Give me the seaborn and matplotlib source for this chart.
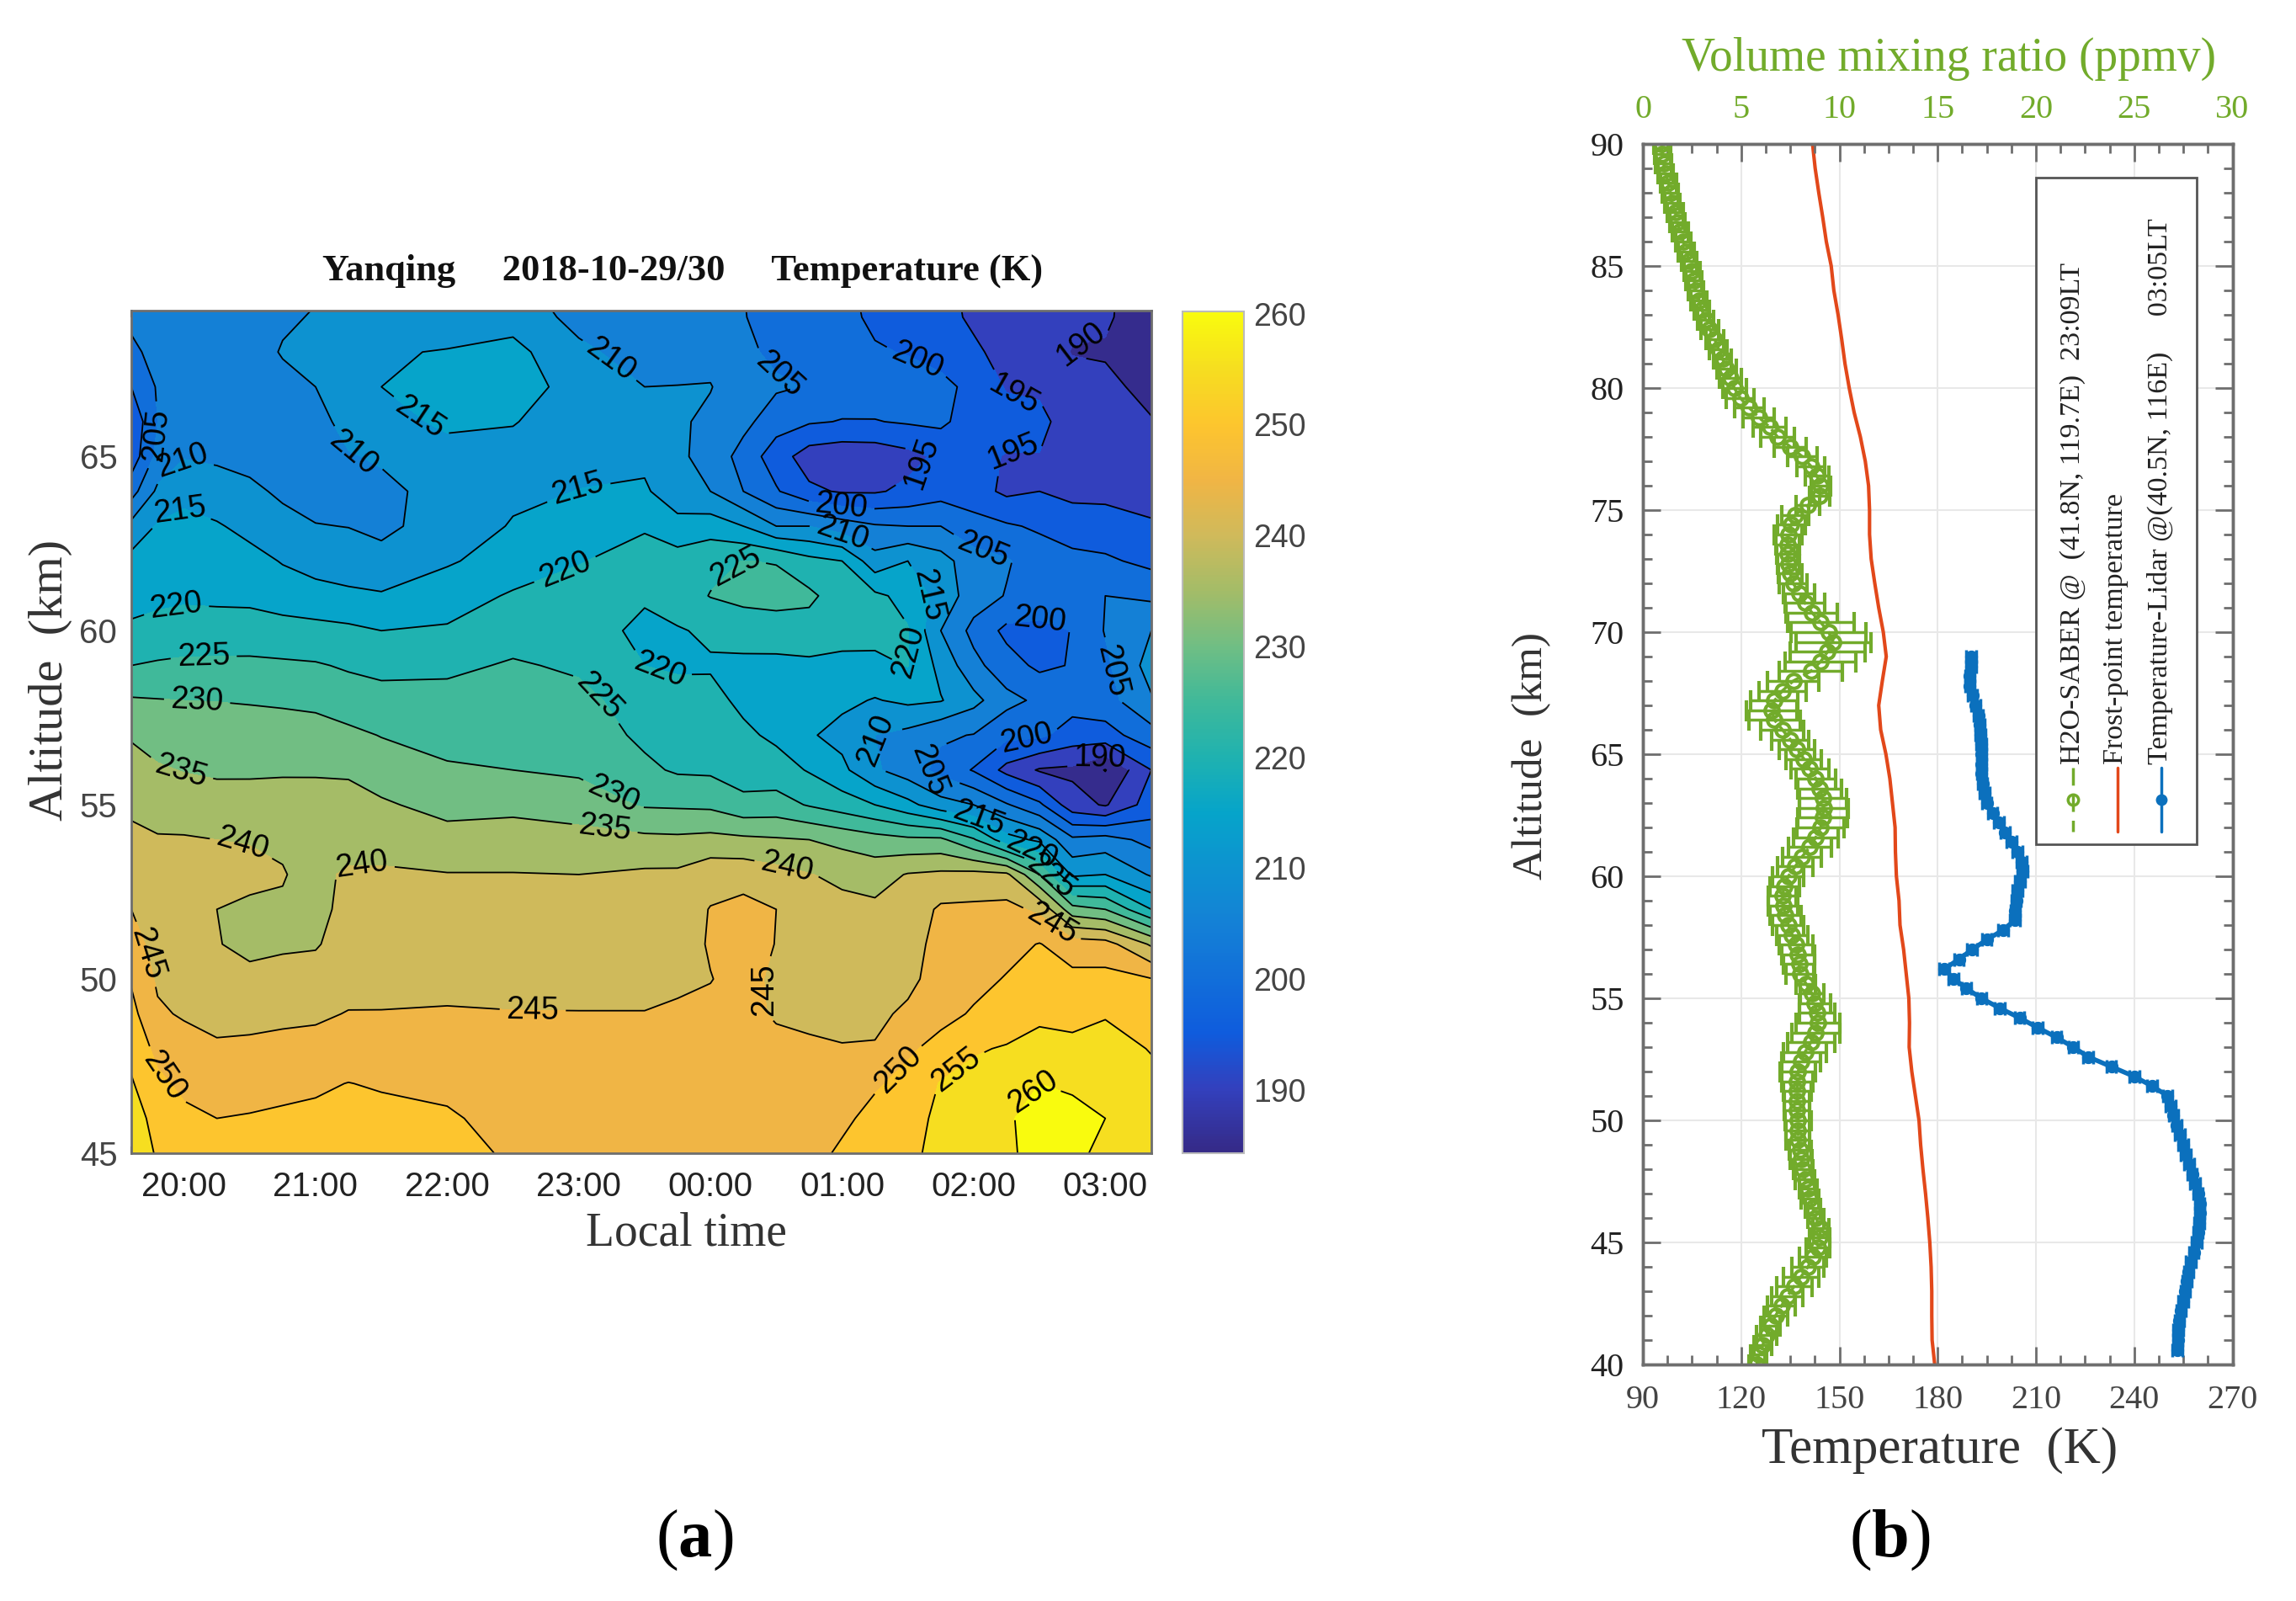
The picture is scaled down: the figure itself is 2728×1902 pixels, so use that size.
# -*- coding: utf-8 -*-
"""
Yanqing lidar temperature (a) and SABER H2O / frost point profile (b)
"""
import numpy as np
import matplotlib
matplotlib.use("Agg")
import matplotlib.pyplot as plt
from matplotlib.colors import Normalize, LinearSegmentedColormap
from matplotlib.cm import ScalarMappable
from matplotlib.patches import Rectangle
from matplotlib.ticker import MultipleLocator, FuncFormatter
import seaborn as sns

sns.set_style("ticks")
plt.rcParams["font.family"] = ["Liberation Sans", "DejaVu Sans"]
plt.rcParams["mathtext.fontset"] = "custom"
plt.rcParams["mathtext.bf"] = "Liberation Serif:bold"

W, H = 2728, 1902

#%% panel a data: temperature (K), one list per time column
hours = [19.6, 19.8, 20.0, 20.25, 20.5, 20.75, 21.0, 21.25, 21.5, 22.0, 22.5, 23.0, 23.5, 23.75,
         24.0, 24.25, 24.5, 24.75, 25.0, 25.25, 25.5, 25.75, 26.0, 26.25, 26.5, 26.75, 27.0, 27.35]
altitudes = [45, 46, 47, 48, 49, 50, 51, 52, 53, 54, 55, 56, 57, 58, 59, 60, 61, 62, 63, 64, 65, 66, 67, 68, 69, 70]
t_1936 = [258, 257, 255.5, 253.5, 251.5, 249.5, 247, 245, 243, 241.2, 239, 237, 234.5, 230.5, 225, 220.5, 219, 216.5, 211.5, 203, 197, 196, 200, 204, 206, 206]
t_1948 = [254.5, 253.5, 251, 248.7, 245.7, 244.3, 243.2, 242.5, 241.5, 240.4, 238, 235.6, 232.8, 230.2, 225.7, 221, 219.3, 217.5, 215.5, 211, 206.5, 205, 205.5, 206.5, 207, 207]
t_2000 = [252, 251, 249, 247, 244.5, 243.5, 242.8, 242, 241.3, 240.4, 237.5, 234.8, 232.3, 230, 226, 222, 219.3, 218, 216.5, 213.5, 209.7, 208.5, 208, 207.5, 207.5, 207.5]
t_2015 = [251.7, 250, 248, 245.6, 243.7, 241.7, 240.2, 240, 241.1, 240, 236.4, 234.5, 232.3, 229.9, 226, 222.2, 219, 217.3, 215.5, 212, 209.3, 208, 207.5, 207.3, 207.5, 207.5]
t_2030 = [251.5, 250.3, 248.3, 246, 243.5, 241, 239, 239.3, 241, 239.8, 236.7, 234.4, 232, 229.7, 226, 222.3, 218.8, 216.7, 213.5, 211, 208.5, 207.5, 207, 207, 208, 208]
t_2045 = [251.8, 250.7, 248.8, 246.3, 244, 241.5, 239.4, 239.6, 240.2, 239.5, 236.5, 234.6, 232, 229.4, 225.7, 222, 217.5, 214.7, 211.5, 209.2, 207.7, 207.6, 208, 210.5, 209, 208.5]
t_2100 = [252, 251, 249.3, 246.5, 244.3, 241.9, 239.6, 239, 238.8, 237.6, 236.1, 234.7, 231.8, 229, 225.4, 221.7, 216.4, 213.5, 210.2, 208, 207.5, 208.5, 210, 211.5, 210.5, 209]
t_2115 = [252.5, 251.4, 250.1, 247.2, 245.2, 243.4, 242, 241, 240.7, 238, 236.6, 234.4, 231.2, 227.2, 224.5, 221, 216, 212.3, 209.9, 208.4, 209.7, 211.5, 212.5, 213, 211, 210]
t_2130 = [253, 251.5, 249.5, 247.3, 245.2, 243.5, 242.5, 241.8, 240.6, 238.3, 235.6, 232.8, 229.8, 226.7, 223.7, 220, 215.5, 211.4, 209, 209, 210.5, 213, 215, 214.5, 212, 211]
t_2200 = [252.5, 250.7, 248.7, 247, 245.3, 244, 243, 242, 240.2, 236.7, 233.5, 230.6, 228.3, 226.6, 224, 220.6, 217.5, 214.5, 212, 211.5, 213, 216, 217.7, 215.3, 212, 211]
t_2230 = [249, 248, 247, 246, 245.1, 244.2, 243, 242, 240.2, 236.8, 234, 230, 228, 226.6, 225.5, 223, 220.6, 217, 215.4, 214, 213.7, 215.2, 218, 216.5, 213, 211]
t_2300 = [248.5, 248, 247, 246, 245.1, 244, 243, 242, 240, 236.7, 232.7, 229.2, 227.7, 226.3, 224.3, 223, 221.5, 219.8, 217.5, 215.1, 213.8, 213, 212.5, 211, 208.5, 207.5]
t_2330 = [248.5, 248, 247, 246, 245.1, 244, 243, 242, 240.8, 236.2, 229.5, 226, 224, 222.8, 220, 218.5, 220.8, 221.5, 219.6, 215.8, 213.7, 212, 210, 208, 206.5, 205.5]
t_2345 = [248.7, 248.2, 247.2, 246.2, 245.4, 244.5, 243.5, 242.5, 240.9, 236, 229.3, 224.4, 222.8, 221.7, 219.4, 219.6, 222.5, 222, 217, 211.5, 210.8, 210.7, 210.1, 208, 206.5, 205.5]
t_0000 = [249, 248.5, 247.5, 246.5, 245.7, 244.9, 245.3, 245.2, 243.2, 236.5, 229, 224.2, 222.5, 221.5, 219.5, 220.8, 225.2, 223.7, 217.7, 210, 208.5, 209, 210.2, 208.5, 206.5, 205]
t_0015 = [248.8, 248.3, 247.3, 246.3, 246, 246, 246.5, 246.3, 243.3, 236, 226.5, 222.5, 221, 218.9, 218.7, 222.5, 226.2, 225.1, 215, 205, 203, 206.5, 207.2, 206, 205.3, 205]
t_0030 = [248.5, 248, 247, 246, 244.6, 244.4, 244.9, 245, 241.8, 235.5, 227, 222.2, 219, 218, 218.5, 223, 226.5, 224.8, 210, 200.5, 197.5, 202, 205.7, 204, 202.5, 201]
t_0045 = [248.3, 247.8, 246.8, 245.5, 244.3, 243.7, 243.4, 243, 240.2, 235, 224.6, 219.6, 215.5, 217, 219, 223, 226, 221.5, 210, 196, 192.5, 200.5, 204.7, 203.5, 202.3, 201.5]
t_0100 = [250.8, 249, 247.5, 245.2, 244, 243, 242, 241.3, 239, 233.5, 222.5, 216.2, 213.5, 216, 218.6, 222, 222.5, 220, 207.5, 194.5, 191.5, 199.8, 202.3, 202.5, 201.5, 201]
t_0115 = [253, 251.5, 249.4, 245.4, 243.8, 243, 242.5, 241, 238, 232, 220, 210.7, 210, 214.7, 218.5, 222, 221, 212, 205.5, 194.5, 191.8, 199.8, 202.5, 200.5, 199, 198.5]
t_0130 = [254, 253.3, 251.5, 249.2, 246, 243.6, 243.2, 242, 240.3, 231, 216.5, 207.5, 208.5, 216, 220.2, 220.3, 218.5, 215, 205, 196, 193.5, 200.5, 202.5, 199.7, 198, 197.5]
t_0145 = [256.3, 256, 255.3, 251.7, 248.5, 247.4, 246.5, 245.8, 241, 231, 212, 203.5, 205.7, 215.3, 213.5, 210, 213, 212, 205, 198, 196, 201, 201.5, 198, 197, 196.5]
t_0200 = [257, 257, 256.5, 254.5, 250.5, 248.6, 247.3, 246, 241.5, 225.5, 210, 199.6, 204.8, 211.5, 206.5, 203.5, 207.5, 207, 202, 197, 196.5, 197.5, 198.5, 196, 194, 193.5]
t_0215 = [259.5, 259.5, 258, 255.4, 252.2, 250.3, 248.5, 246.5, 241, 217, 205.5, 193.5, 201.2, 206.5, 202, 198.8, 204.7, 205.5, 200.6, 194, 194.7, 197, 194.6, 193, 192, 191.7]
t_0230 = [261, 261.5, 260, 256.7, 254, 251.8, 250.2, 244, 230, 214, 201, 189.5, 201, 204, 199, 198, 204.7, 202.5, 199.3, 195, 194.9, 195.8, 194.5, 193.5, 192.5, 192]
t_0245 = [261.5, 261, 259.5, 256.3, 253.5, 251.2, 247.6, 232, 214, 206, 192, 189, 197.8, 202, 200.3, 200.2, 204.3, 201.7, 197, 194, 194, 193.5, 192.5, 189.7, 191.5, 192]
t_0300 = [258.5, 260, 259, 256.5, 254.7, 251.5, 247, 230, 215, 207, 189.5, 184.8, 198, 203, 204, 205.3, 205, 200.8, 197, 193.8, 193, 192, 191.2, 189.5, 190.7, 191]
t_0321 = [257, 256.5, 256, 254.8, 252.5, 250.2, 239.3, 220, 209.4, 203.5, 197.5, 195, 203, 209.5, 212, 210, 204, 198.7, 195.3, 194, 192.5, 190.3, 188.5, 187.5, 187, 187]
contour_levels = [185, 190, 195, 200, 205, 210, 215, 220, 225, 230, 235, 240, 245, 250, 255, 260]
# where each contour carries its number (hour, km)
label_spots = [(19.8, 65.6), (20.0, 64.8), (19.95, 63.6), (19.95, 60.5), (20.15, 59.2), (20.1, 58.0), (19.98, 56.0),
               (20.45, 54.0), (21.35, 53.45), (19.7, 50.7), (19.85, 47.2), (22.65, 49.1), (21.3, 65.2), (21.75, 65.9),
               (23.3, 68.1), (24.55, 67.55), (25.6, 68.0), (26.3, 66.7), (26.8, 68.4), (25.6, 64.8), (26.3, 65.0),
               (25.0, 63.7), (25.0, 62.8), (26.1, 62.7), (23.0, 64.0), (22.9, 61.7), (24.15, 62.0), (25.65, 61.0),
               (25.52, 59.4), (23.6, 58.7), (23.15, 58.1), (23.25, 55.2), (23.2, 54.4), (24.6, 53.5), (26.6, 51.6),
               (24.4, 49.7), (25.4, 47.5), (25.9, 47.2), (26.4, 46.9), (26.5, 60.3), (27.0, 58.8), (26.4, 57.0),
               (26.95, 56.4), (25.2, 56.8), (25.65, 55.9), (26.05, 54.7), (26.45, 53.8), (26.6, 53.0)]

#%% panel b data
h2o_alt = [40.0, 40.4, 40.8, 41.2, 41.6, 42.0, 42.4, 42.8, 43.2, 43.6, 44.0, 44.4, 44.8, 45.2, 45.6, 46.0, 46.4, 46.8, 47.2, 47.6,
           48.0, 48.4, 48.8, 49.2, 49.6, 50.0, 50.4, 50.8, 51.2, 51.6, 52.0, 52.4, 52.8, 53.2, 53.6, 54.0, 54.4, 54.8, 55.2, 55.6,
           56.0, 56.4, 56.8, 57.2, 57.6, 58.0, 58.4, 58.8, 59.2, 59.6, 60.0, 60.4, 60.8, 61.2, 61.6, 62.0, 62.4, 62.8, 63.2, 63.6,
           64.0, 64.4, 64.8, 65.2, 65.6, 66.0, 66.4, 66.8, 67.2, 67.6, 68.0, 68.4, 68.8, 69.2, 69.6, 70.0, 70.4, 70.8, 71.2, 71.6,
           72.0, 72.4, 72.8, 73.2, 73.6, 74.0, 74.4, 74.8, 75.2, 75.6, 76.0, 76.4, 76.8, 77.2, 77.6, 78.0, 78.4, 78.8, 79.2, 79.6,
           80.0, 80.4, 80.8, 81.2, 81.6, 82.0, 82.4, 82.8, 83.2, 83.6, 84.0, 84.4, 84.8, 85.2, 85.6, 86.0, 86.4, 86.8, 87.2, 87.6,
           88.0, 88.4, 88.8, 89.2, 89.6, 90.0]
h2o_vmr = [5.8, 5.9, 6.1, 6.3, 6.5, 6.75, 7.05, 7.35, 7.7, 8.05, 8.4, 8.65, 8.9, 9.0, 9.05, 8.8, 8.65, 8.5, 8.4, 8.25,
           8.15, 8.05, 8.0, 7.9, 7.9, 7.9, 7.85, 7.85, 7.85, 7.85, 7.9, 8.05, 8.25, 8.55, 8.8, 8.9, 8.85, 8.75, 8.6, 8.3,
           8.0, 7.95, 7.9, 7.8, 7.6, 7.4, 7.25, 7.15, 7.1, 7.2, 7.4, 7.75, 8.1, 8.5, 8.8, 9.05, 9.15, 9.2, 9.15, 9.0,
           8.8, 8.5, 8.2, 7.85, 7.5, 7.1, 6.7, 6.55, 6.7, 7.1, 7.65, 8.55, 9.05, 9.4, 9.7, 9.45, 9.05, 8.6, 8.25, 7.95,
           7.65, 7.5, 7.4, 7.35, 7.35, 7.4, 7.55, 7.75, 8.4, 9.0, 9.05, 8.85, 8.55, 8.1, 7.5, 6.85, 6.45, 5.9, 5.4, 4.95,
           4.65, 4.45, 4.25, 4.05, 3.85, 3.65, 3.4, 3.2, 3.0, 2.85, 2.7, 2.6, 2.5, 2.35, 2.2, 2.05, 1.9, 1.75, 1.65, 1.5,
           1.4, 1.3, 1.15, 1.05, 1.0, 0.95]
h2o_err = [.4, .4, .45, .5, .5, .6, .7, .8, .9, .9, .8, .7, .6, .5, .4, .4, .4, .45, .45, .5,
           .5, .55, .55, .6, .6, .65, .65, .65, .7, .8, .9, 1.0, 1.1, 1.2, 1.2, 1.1, .9, .8, .6, .5,
           .7, .8, .85, .85, .8, .8, .8, .75, .7, .75, .8, .9, 1.0, 1.1, 1.15, 1.2, 1.25, 1.25, 1.2, 1.1,
           1.0, .95, .9, .9, .95, 1.1, 1.3, 1.3, 1.2, 1.2, 1.3, 1.6, 1.8, 1.9, 1.9, 1.9, 1.7, 1.3, 1.0, .8,
           .7, .6, .55, .55, .6, .7, .7, .7, .6, .5, .5, .6, .7, .75, .8, .85, .85, .8, .75, .7,
           .6, .55, .5, .45, .45, .45, .45, .4, .4, .4, .4, .4, .4, .4, .4, .4, .4, .4, .4, .4,
           .4, .4, .4, .4, .4, .4]

frost_alt = [40, 41, 42, 43, 44, 45, 46, 47, 48, 49, 50, 51, 52, 53, 54, 55, 56, 57, 58, 59, 60, 61, 62, 63, 64,
             65, 66, 67, 68, 69, 70, 71, 72, 73, 74, 75, 76, 77, 78, 79, 80, 81, 82, 83, 84, 85, 86, 87, 88, 89, 90]
frost_t = [179.1, 178.3, 178.2, 178.2, 178, 177.6, 177, 176.3, 175.5, 174.8, 174.3, 173.2, 172.1, 171.3, 171.4, 171.2, 170.4, 169.6,
           168.5, 168.2, 167.4, 167.1, 167, 166.2, 165.4, 164.2, 162.6, 162, 163.1, 164.3, 163.4, 162, 160.8, 159.7, 159.2, 159.2,
           158.9, 157.9, 156.4, 154.5, 153, 151.7, 150.7, 149.6, 148.3, 147.5, 146, 144.9, 143.7, 142.6, 141.8]

lidar_alt = [40.6, 41.0, 41.4, 41.8, 42.2, 42.6, 43.0, 43.4, 43.8, 44.2, 44.6, 45.0, 45.4, 45.8, 46.2, 46.6, 47.0, 47.4, 47.8, 48.2,
             48.6, 49.0, 49.4, 49.8, 50.2, 50.6, 51.0, 51.4, 51.8, 52.2, 52.6, 53.0, 53.4, 53.8, 54.2, 54.6, 55.0, 55.4, 55.8, 56.2,
             56.6, 57.0, 57.4, 57.8, 58.2, 58.6, 59.0, 59.4, 59.8, 60.2, 60.6, 61.0, 61.4, 61.8, 62.2, 62.6, 63.0, 63.4, 63.8, 64.2,
             64.6, 65.0, 65.4, 65.8, 66.2, 66.6, 67.0, 67.4, 67.8, 68.2, 68.6, 69.0]
lidar_t = [253.2, 253.3, 253.5, 253.8, 254.3, 255, 255.6, 256.1, 256.6, 257.3, 258.2, 259, 259.5, 259.9, 260, 260, 259.5, 258.6, 257.7, 256.8,
           255.8, 254.9, 253.9, 253, 252, 251.1, 250.2, 245.5, 240, 233, 226, 221.4, 216.3, 210.5, 205, 198.9, 193.4, 188.8, 184.9, 182,
           186.5, 190.5, 195, 200, 203.5, 203.7, 204, 204.3, 205.2, 205.9, 205.7, 204.3, 202.5, 200.6, 198.7, 196.8, 195, 194.3, 193.7, 193.4,
           193.4, 193.4, 193.3, 193.1, 192.9, 192.4, 191.6, 190.6, 189.8, 189.8, 190.3, 190.3]
lidar_err = 1.5

#%% colours and helpers
# parula-like map, stops matched to the bands of the picture
parula = LinearSegmentedColormap.from_list("parula_like", [
    (0.0, "#352a87"), (0.075, "#3340bd"), (0.141, "#0f5cdd"), (0.273, "#1481d6"), (0.404, "#06a4ca"),
    (0.47, "#1fb2b0"), (0.536, "#3fb99a"), (0.602, "#6fbe84"), (0.668, "#a3bc68"), (0.734, "#cfba5b"),
    (0.8, "#f0b545"), (0.866, "#fdc52e"), (0.932, "#f6dd20"), (1.0, "#f9fb0e")])
GREEN = "#72ab2b"
RED = "#e2481a"
BLUE = "#0b70bd"
FRAME = "#6e6e6e"
SERIF = "Liberation Serif"


def box(x0, y0, x1, y1):
    # pixel box of the reference -> figure fractions
    return [x0 / W, 1 - y1 / H, (x1 - x0) / W, (y1 - y0) / H]


def put(x, y, s, **kw):
    return fig.text(x / W, 1 - y / H, s, ha=kw.pop("ha", "center"), va=kw.pop("va", "center"), **kw)


fig = plt.figure(figsize=(W / 100, H / 100), dpi=100)

#%% panel a
ax = fig.add_axes(box(156, 368.5, 1368, 1370))
temp = np.array([t_1936, t_1948, t_2000, t_2015, t_2030, t_2045, t_2100, t_2115, t_2130, t_2200, t_2230, t_2300, t_2330, t_2345,
                 t_0000, t_0015, t_0030, t_0045, t_0100, t_0115, t_0130, t_0145, t_0200, t_0215, t_0230, t_0245, t_0300, t_0321]).T
norm = Normalize(184.3, 260.2)
# every band takes the colour of its lower level, as in the original filled contour
band_edges = [180] + contour_levels + [270]
band_colors = [parula(norm(v)) for v in band_edges[:-1]]
ax.contourf(hours, altitudes, temp, levels=band_edges, colors=band_colors)
cs = ax.contour(hours, altitudes, temp, levels=contour_levels, colors="black", linewidths=1.3)
ax.clabel(cs, fmt="%d", fontsize=27, manual=label_spots, inline=True, inline_spacing=8)
ax.set_xlim(19.6, 27.35)
ax.set_ylim(45, 69.2)
ax.xaxis.set_major_locator(MultipleLocator(1))
ax.xaxis.set_minor_locator(MultipleLocator(0.2))
ax.xaxis.set_major_formatter(FuncFormatter(lambda v, p: f"{int(v) % 24:02d}:00"))
ax.yaxis.set_major_locator(MultipleLocator(5))
ax.yaxis.set_minor_locator(MultipleLocator(1))
ax.tick_params(which="major", direction="in", top=True, right=True, length=12, width=1.5, color=FRAME)
ax.tick_params(which="minor", direction="in", top=True, right=True, length=6, width=1.5, color=FRAME)
ax.tick_params(axis="x", which="major", labelsize=29, pad=15, labelcolor="#222222")
ax.tick_params(axis="y", which="major", labelsize=29, pad=12, labelcolor="#444444")
for s in ax.spines.values():
    s.set_color(FRAME)
    s.set_linewidth(2)

cax = fig.add_axes(box(1405, 370, 1478, 1370))
cb = fig.colorbar(ScalarMappable(norm=norm, cmap=parula), cax=cax)
cb.set_ticks([190, 200, 210, 220, 230, 240, 250, 260])
cb.ax.tick_params(direction="in", length=12, width=1.5, color=FRAME, labelsize=27, pad=8, labelcolor="#444444")
cb.outline.set_edgecolor("#bbbbbb")
cb.outline.set_linewidth(1.5)

put(811, 322, "Yanqing     2018-10-29/30     Temperature (K)", family=SERIF, weight="bold", fontsize=32, color="#111111")
put(815, 1465, "Local time", family=SERIF, fontsize=40, color="#333333")
put(60, 808, "Altitude  (km)", family=SERIF, fontsize=42, rotation=90, color="#333333")
put(825, 1830, r"($\mathbf{a}$)", family=SERIF, fontsize=58, color="black")

#%% panel b
ax_t = fig.add_axes(box(1952, 171, 2652.5, 1621))
sns.lineplot(x=frost_t, y=frost_alt, orient="y", sort=False, errorbar=None, color=RED, linewidth=3, ax=ax_t)
ax_t.errorbar(lidar_t, lidar_alt, xerr=lidar_err, color=BLUE, linewidth=4, marker="o", markersize=10,
              elinewidth=2.5, capsize=6, capthick=2.5)
ax_t.set_xlim(90, 270)
ax_t.set_ylim(40, 90)
ax_t.xaxis.set_major_locator(MultipleLocator(30))
ax_t.xaxis.set_minor_locator(MultipleLocator(7.5))
ax_t.yaxis.set_major_locator(MultipleLocator(5))
ax_t.yaxis.set_minor_locator(MultipleLocator(1))
ax_t.grid(which="major", color="#e8e8e8", linewidth=1.5)
ax_t.set_axisbelow(True)
ax_t.tick_params(which="major", direction="in", right=True, length=15, width=2, color=FRAME)
ax_t.tick_params(which="minor", direction="in", right=True, length=8, width=2, color=FRAME)
ax_t.tick_params(axis="x", which="major", labelsize=29, pad=17, labelcolor="#444444", labelfontfamily=SERIF)
ax_t.tick_params(axis="y", which="major", labelsize=29, pad=16, labelcolor="#222222", labelfontfamily=SERIF)

ax_v = ax_t.twiny()
ax_v.errorbar(h2o_vmr, h2o_alt, xerr=h2o_err, color=GREEN, linewidth=2.5, linestyle="--", marker="o", markersize=12,
              markerfacecolor="none", markeredgewidth=3, elinewidth=2.5, capsize=9, capthick=2.5)
ax_v.set_xlim(0, 30)
ax_v.set_ylim(40, 90)
ax_v.xaxis.set_major_locator(MultipleLocator(5))
ax_v.xaxis.set_minor_locator(MultipleLocator(1.25))
ax_v.tick_params(which="major", direction="in", length=15, width=2, color=FRAME)
ax_v.tick_params(which="minor", direction="in", length=8, width=2, color=FRAME)
ax_v.tick_params(axis="x", which="major", labelsize=29, pad=16, labelcolor=GREEN, labelfontfamily=SERIF)
for a in (ax_t, ax_v):
    for s in a.spines.values():
        s.set_color(FRAME)
        s.set_linewidth(2.5)

# legend is drawn upright-rotated in the picture, so it is built by hand
ax_leg = fig.add_axes([0, 0, 1, 1], facecolor="none")
ax_leg.set_xlim(0, W)
ax_leg.set_ylim(H, 0)
ax_leg.axis("off")
ax_leg.add_patch(Rectangle((2419, 211), 190.5, 792, facecolor="white", edgecolor="#555555", linewidth=2))
ax_leg.plot([2463, 2463], [912, 988], color=GREEN, linewidth=2.5, linestyle="--", dashes=(6, 3))
ax_leg.plot([2463], [950], color=GREEN, marker="o", markersize=9, markerfacecolor="none", markeredgewidth=2.5)
ax_leg.plot([2516, 2516], [912, 988], color=RED, linewidth=2.5)
ax_leg.plot([2568, 2568], [912, 988], color=BLUE, linewidth=2.5)
ax_leg.plot([2568], [950], color=BLUE, marker="o", markersize=9)
ax_leg.text(2463, 908, "H2O-SABER @  (41.8N, 119.7E)  23:09LT", family=SERIF, fontsize=24.5, rotation=90,
            ha="center", va="bottom", color="#222222")
ax_leg.text(2514, 908, "Frost-point temperature", family=SERIF, fontsize=24.5, rotation=90,
            ha="center", va="bottom", color="#222222")
ax_leg.text(2566, 908, "Temperature-Lidar @(40.5N, 116E)     03:05LT", family=SERIF, fontsize=24.5, rotation=90,
            ha="center", va="bottom", color="#222222")

put(2316, 70, "Volume mixing ratio (ppmv)", family=SERIF, fontsize=40, color=GREEN)
put(2305, 1723, "Temperature  (K)", family=SERIF, fontsize=44, color="#333333")
put(1820, 898, "Altitude  (km)", family=SERIF, fontsize=37, rotation=90, color="#333333")
put(2245, 1830, r"($\mathbf{b}$)", family=SERIF, fontsize=58, color="black")

fig.savefig("out.png", dpi=100)
